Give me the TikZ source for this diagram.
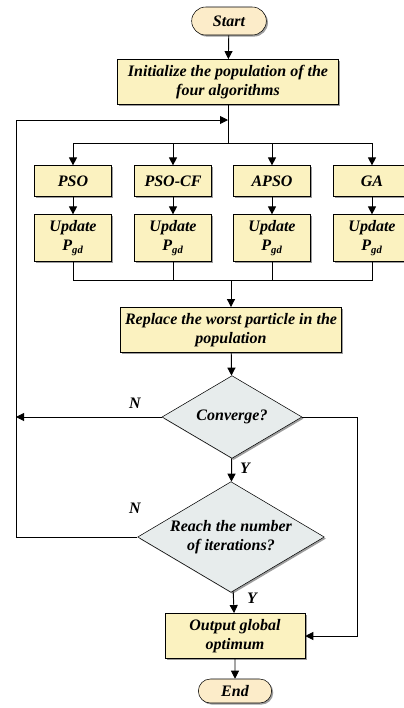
\documentclass[tikz,border=0pt]{standalone}
\usepackage{fontspec}
\setmainfont{Liberation Serif}
\usetikzlibrary{shapes.geometric, shapes.misc, arrows.meta, shadows}

\definecolor{termfill}{RGB}{252,236,201}
\definecolor{boxfill}{RGB}{251,242,192}
\definecolor{decfill}{RGB}{231,236,236}

\begin{document}
\begin{tikzpicture}[
        x=0.75pt, y=-0.75pt,
        font=\fontsize{12}{14.5}\selectfont\bfseries\itshape,
        shade/.style={drop shadow={shadow xshift=1.2pt, shadow yshift=-1.2pt, fill=black!70, opacity=0.55}},
        term/.style={rounded rectangle, draw, fill=termfill, shade, inner sep=1pt, minimum width=58pt, minimum height=21pt},
        proc/.style={rectangle, draw, fill=boxfill, shade, align=center, inner sep=1pt},
        decide/.style={diamond, draw, fill=decfill, shade, align=center, inner sep=0pt, aspect=1.7},
        line/.style={line width=0.7pt},
        arr/.style={line width=0.7pt, -{Triangle[length=6pt, width=6pt]}},
        lbl/.style={inner sep=0pt}
    ]
        \useasboundingbox (0,0) rectangle (404,708);

        % Start and init
        \node[term] (start) at (229,21) {Start};
        \node[proc, minimum width=166pt, minimum height=34pt] (init) at (228,82) {Initialize the population of the\\four algorithms};

        % Algorithms
        \node[proc, minimum width=58pt, minimum height=23pt] (pso) at (73,181) {PSO};
        \node[proc, minimum width=58pt, minimum height=23pt] (psocf) at (173,181) {PSO-CF};
        \node[proc, minimum width=58pt, minimum height=23pt] (apso) at (272,181) {APSO};
        \node[proc, minimum width=58pt, minimum height=23pt] (ga) at (372,181) {GA};

        % Updates
        \node[proc, minimum width=58pt, minimum height=35pt] (up1) at (73,238) {Update\\P\textsubscript{gd}};
        \node[proc, minimum width=58pt, minimum height=35pt] (up2) at (173,238) {Update\\P\textsubscript{gd}};
        \node[proc, minimum width=58pt, minimum height=35pt] (up3) at (272,238) {Update\\P\textsubscript{gd}};
        \node[proc, minimum width=58pt, minimum height=35pt] (up4) at (372,238) {Update\\P\textsubscript{gd}};

        % Replace and tests
        \node[proc, minimum width=166pt, minimum height=34pt] (replace) at (231,330) {Replace the worst particle in the\\population};
        \node[decide, minimum width=105pt, minimum height=62pt] (conv) at (232,417) {Converge?};
        \node[decide, minimum width=140pt, minimum height=83pt] (reach) at (231,537) {Reach the number\\of iterations?};

        % Output and end
        \node[proc, minimum width=105pt, minimum height=34pt] (output) at (235,636) {Output global\\optimum};
        \node[term, minimum width=57pt, minimum height=18pt] (end) at (235,691) {End};

        % Junctions
        \coordinate (split) at (228,143);
        \coordinate (loop) at (228,120);
        \coordinate (merge) at (231,280);
        \coordinate (left) at (16,120);
        \coordinate (right) at (357,417);

        % Labels
        \node[lbl] (n1) at (135,403) {N};
        \node[lbl] (n2) at (135,508) {N};
        \node[lbl] (y1) at (245,468) {Y};
        \node[lbl] (y2) at (252,598) {Y};

        % Arrows
        \draw[arr] (start) -- (init);
        \draw[line] (init) -- (split);
        \draw[arr] (split) -| (pso);
        \draw[arr] (split) -| (psocf);
        \draw[arr] (split) -| (apso);
        \draw[arr] (split) -| (ga);

        \draw[arr] (pso) -- (up1);
        \draw[arr] (psocf) -- (up2);
        \draw[arr] (apso) -- (up3);
        \draw[arr] (ga) -- (up4);

        \draw[line] (up1) |- (merge);
        \draw[line] (up2) |- (merge);
        \draw[line] (up3) |- (merge);
        \draw[line] (up4) |- (merge);
        \draw[arr] (merge) -- (replace);

        \draw[arr] (replace) -- (conv);
        \draw[arr] (conv) -- (reach);
        \draw[arr] (conv.west) -- (conv.west -| left);
        \draw[arr] (reach.west) -| (left) -- (loop);
        \draw[arr] (conv.east) -- (right) |- (output.east);
        \draw[arr] (reach) -- (output);
        \draw[arr] (output) -- (end);
    \end{tikzpicture}
\end{document}
